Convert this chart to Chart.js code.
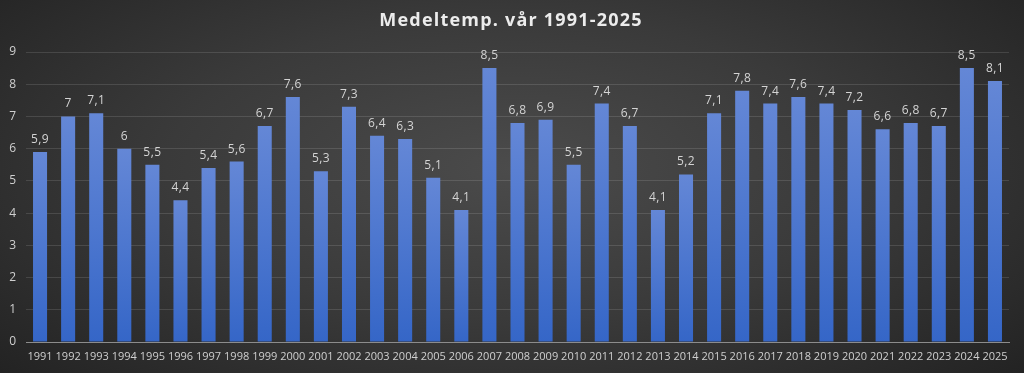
<!DOCTYPE html>
<html>
<head>
<meta charset="utf-8">
<script src="https://cdn.jsdelivr.net/npm/chart.js@4"></script>
<style>
  html, body { margin: 0; padding: 0; }
  body {
    width: 1024px;
    height: 373px;
    overflow: hidden;
    background: radial-gradient(ellipse 75% 90% at 50% 45%, #4b4b4b 0%, #3a3a3a 45%, #1e1e1e 100%);
  }
  #wrap { position: relative; width: 1024px; height: 373px; }
</style>
</head>
<body>
<div id="wrap"><canvas id="chart"></canvas></div>
<script>
var TITLE = "Medeltemp. vår 1991-2025";
var years = ["1991", "1992", "1993", "1994", "1995", "1996", "1997", "1998", "1999", "2000",
  "2001", "2002", "2003", "2004", "2005", "2006", "2007", "2008", "2009", "2010",
  "2011", "2012", "2013", "2014", "2015", "2016", "2017", "2018", "2019", "2020",
  "2021", "2022", "2023", "2024", "2025"];
var temps = [5.9, 7, 7.1, 6, 5.5, 4.4, 5.4, 5.6, 6.7, 7.6,
  5.3, 7.3, 6.4, 6.3, 5.1, 4.1, 8.5, 6.8, 6.9, 5.5,
  7.4, 6.7, 4.1, 5.2, 7.1, 7.8, 7.4, 7.6, 7.4, 7.2,
  6.6, 6.8, 6.7, 8.5, 8.1];
var yMin = 0;
var yMax = 9;

function fmt(v) {
  return String(v).replace(".", ",");
}

function barColor(ctx) {
  var chart = ctx.chart;
  var area = chart.chartArea;
  if (!area || !chart.scales.y) return "#4472c4";
  var v = ctx.raw;
  var top = chart.scales.y.getPixelForValue(v);
  var bottom = chart.scales.y.getPixelForValue(0);
  if (!isFinite(top) || top === bottom) return "#4472c4";
  var g = chart.ctx.createLinearGradient(0, top, 0, bottom);
  g.addColorStop(0, "#6487d6");
  g.addColorStop(0.5, "#4d77cf");
  g.addColorStop(1, "#3566c7");
  return g;
}

var titlePlugin = {
  id: "titleText",
  afterDraw: function (chart) {
    var c = chart.ctx;
    c.save();
    c.font = "bold 18px 'Open Sans'";
    if ("letterSpacing" in c) c.letterSpacing = "1.2px";
    c.fillStyle = "#ececec";
    c.textAlign = "center";
    c.textBaseline = "middle";
    c.fillText(TITLE, 511, 21);
    c.restore();
  }
};

var labelPlugin = {
  id: "barLabels",
  afterDatasetsDraw: function (chart) {
    var c = chart.ctx;
    var meta = chart.getDatasetMeta(0);
    c.save();
    c.font = "12px 'Open Sans'";
    if ("letterSpacing" in c) c.letterSpacing = "0.4px";
    c.fillStyle = "#d4d4d4";
    c.textAlign = "center";
    c.textBaseline = "alphabetic";
    for (var i = 0; i < meta.data.length; i++) {
      var bar = meta.data[i];
      c.fillText(fmt(temps[i]), bar.x, bar.y - 9);
    }
    c.restore();
  }
};

var chart = new Chart(document.getElementById("chart"), {
  type: "bar",
  data: {
    labels: years,
    datasets: [{
      data: temps,
      backgroundColor: barColor,
      borderWidth: 0,
      barPercentage: 0.5,
      categoryPercentage: 1
    }]
  },
  options: {
    responsive: true,
    maintainAspectRatio: false,
    animation: false,
    layout: { padding: { top: 52, right: 15, left: 0, bottom: 0 } },
    plugins: {
      legend: { display: false },
      tooltip: { enabled: false },
      title: { display: false }
    },
    scales: {
      x: {
        grid: { display: false, drawTicks: false },
        border: { display: true, color: "#8c8c8c", width: 1 },
        ticks: {
          color: "#cfcfcf",
          font: { family: "'Open Sans'", size: 11 },
          padding: 8,
          maxRotation: 0,
          autoSkip: false
        },
        afterFit: function (scale) { scale.height = 31; }
      },
      y: {
        min: yMin,
        max: yMax,
        grid: { color: "rgba(255,255,255,0.12)", drawTicks: false },
        border: { display: false },
        ticks: {
          stepSize: 1,
          color: "#cfcfcf",
          font: { family: "'Open Sans'", size: 12 },
          padding: 10
        },
        afterFit: function (scale) { scale.width = 26; }
      }
    }
  },
  plugins: [titlePlugin, labelPlugin]
});
</script>
</body>
</html>
